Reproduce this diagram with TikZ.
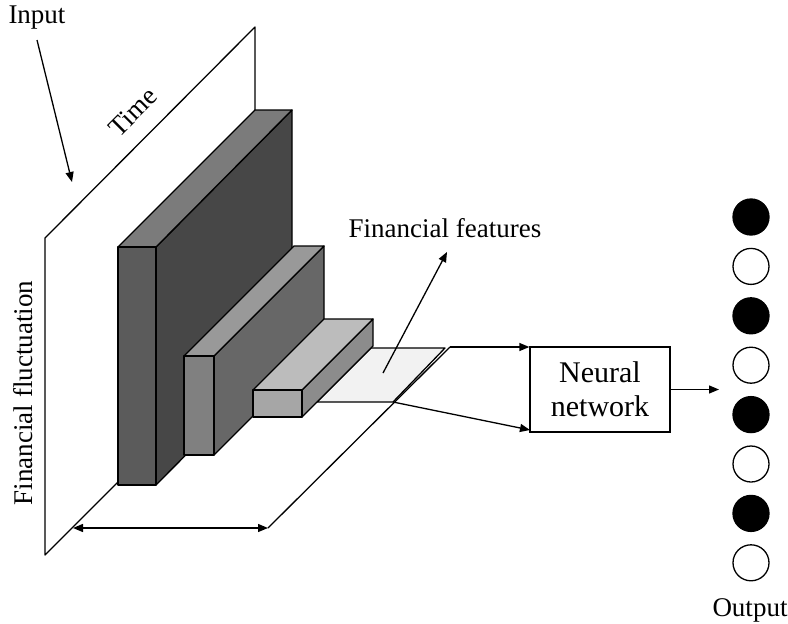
\documentclass[tikz,border=0pt]{standalone}
\usepackage{fontspec}
\setmainfont{Liberation Serif}
\usetikzlibrary{arrows.meta}
\definecolor{afront}{HTML}{5B5B5B}
\definecolor{atop}{HTML}{7B7B7B}
\definecolor{aside}{HTML}{474747}
\definecolor{bfront}{HTML}{808080}
\definecolor{btop}{HTML}{999999}
\definecolor{bside}{HTML}{676767}
\definecolor{cfront}{HTML}{A6A6A6}
\definecolor{ctop}{HTML}{BCBCBC}
\definecolor{cside}{HTML}{8C8C8C}
\definecolor{fplane}{HTML}{F2F2F2}
\begin{document}
\begin{tikzpicture}[x=1pt,y=1pt,
  ln/.style={line width=1.3pt, line join=round},
  face/.style={ln, draw=black},
  arr/.style={line width=1.3pt, -{Triangle[length=10pt,width=8pt]}},
  lbl/.style={font=\fontsize{27}{32}\selectfont, inner sep=0pt},
  boxtext/.style={font=\fontsize{30}{34}\selectfont, draw, line width=1.3pt, align=center, minimum width=140pt, minimum height=85pt, inner sep=0pt},
  onode/.style={circle, draw, line width=1.3pt, minimum size=36pt, inner sep=0pt},
  fnode/.style={onode, fill=black}]
\useasboundingbox (0,0) rectangle (788,-624);
% input plane
\draw[face, fill=white] (45,-238) -- (255,-27) -- (255,-345) -- (45,-555) -- cycle;
% floor right line
\coordinate (flA) at (268,-528);
\coordinate (flB) at (450,-347);
\draw[ln] (flA) -- (flB);
% block A
\draw[face, fill=aside] (156,-247) -- (292,-110) -- (292,-348) -- (156,-485) -- cycle;
\draw[face, fill=atop] (118,-247) -- (255,-110) -- (292,-110) -- (156,-247) -- cycle;
\draw[face, fill=afront] (118,-247) rectangle (156,-485);
% block B
\draw[face, fill=bside] (214,-356) -- (324,-246) -- (324,-345) -- (214,-455) -- cycle;
\draw[face, fill=btop] (184,-356) -- (294,-246) -- (324,-246) -- (214,-356) -- cycle;
\draw[face, fill=bfront] (184,-356) rectangle (214,-455);
% feature plane
\coordinate (fr) at (393,-402);
\draw[face, fill=fplane] (317,-402) -- (fr) -- (445,-348) -- (371,-348) -- cycle;
% block C
\draw[face, fill=cside] (302,-390) -- (373,-319) -- (373,-346) -- (302,-417) -- cycle;
\draw[face, fill=ctop] (253,-390) -- (324,-319) -- (373,-319) -- (302,-390) -- cycle;
\draw[face, fill=cfront] (253,-390) rectangle (302,-417);
% labels
\node[lbl] (in) at (37,-18) {Input};
\node[lbl, rotate=45] (time) at (133,-112) {Time};
\node[lbl, rotate=90] (fluct) at (23,-393) {Financial fluctuation};
\node[lbl] (ff) at (445,-228) {Financial features};
\node[lbl] (out) at (750,-610) {Output};
\node[boxtext] (nn) at (600,-389.5) {Neural\\network};
% circles
\foreach \i in {0,...,7}{
  \pgfmathtruncatemacro{\odd}{mod(\i,2)}
  \ifnum\odd=0
    \node[fnode] (o\i) at (751,{-(217+49.4*\i)}) {};
  \else
    \node[onode] (o\i) at (751,{-(217+49.4*\i)}) {};
  \fi
}
% arrows
\coordinate (inA) at (37,-40);
\coordinate (inB) at (72,-182);
\draw[arr] (inA) -- (inB);
\coordinate (dA) at (73,-528);
\draw[line width=1.3pt, {Triangle[length=10pt,width=8pt]}-{Triangle[length=10pt,width=8pt]}] (dA) -- (flA);
\coordinate (fpt) at (383,-373);
\coordinate (ffend) at (447,-252);
\draw[arr] (fpt) -- (ffend);
\draw[arr] (flB) -- (flB -| nn.west);
\coordinate (lowend) at (530,-430);
\draw[arr] (fr) -- (lowend);
\coordinate (outend) at (719,-389.5);
\draw[arr] (nn.east) -- (outend);
\end{tikzpicture}
\end{document}
